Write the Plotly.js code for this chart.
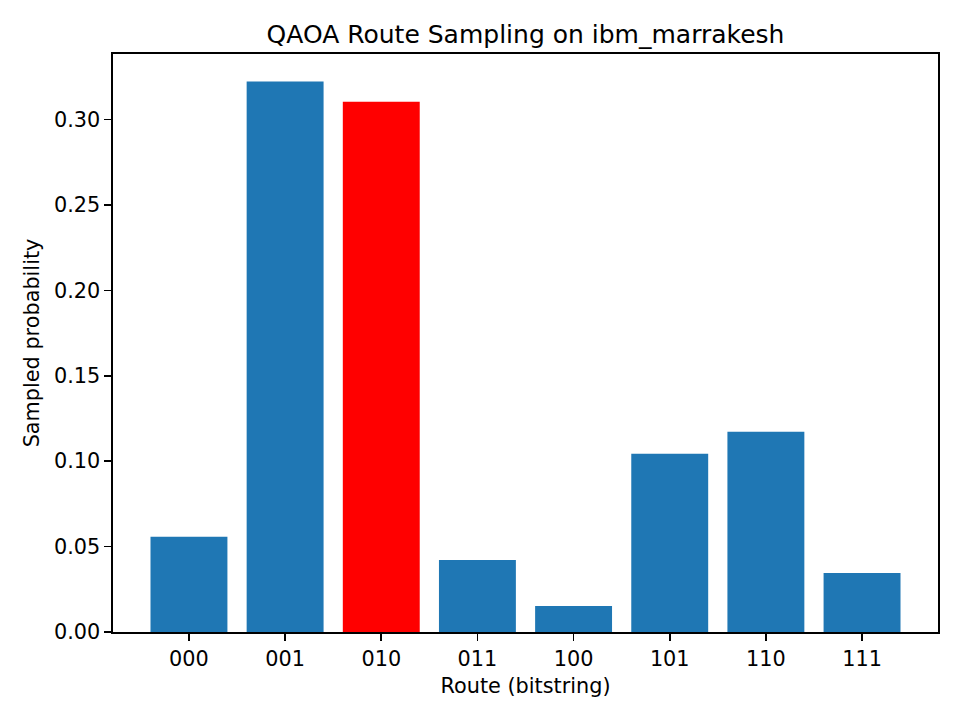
<!DOCTYPE html>
<html>
<head>
<meta charset="utf-8">
<script src="https://cdn.plot.ly/plotly-3.0.1.min.js"></script>
<style>html,body{margin:0;padding:0;background:#fff;}#chart{width:960px;height:720px;}</style>
</head>
<body>
<div id="chart"></div>
<script>
const routes = ["000", "001", "010", "011", "100", "101", "110", "111"];
const probabilities = [0.0557, 0.3223, 0.3105, 0.0422, 0.0152, 0.1043, 0.1172, 0.0346];
const highlightRoute = "010";
const yTickValues = [0, 0.05, 0.10, 0.15, 0.20, 0.25, 0.30];

const barColors = routes.map(r => r === highlightRoute ? "#ff0000" : "#1f77b4");
const font = "DejaVu Sans, sans-serif";

const trace = {
  type: "bar",
  x: routes,
  y: probabilities,
  width: 0.8,
  marker: {color: barColors, line: {width: 0}},
  hoverinfo: "x+y"
};

const axisCommon = {
  showline: true, linecolor: "#000", linewidth: 1.6, mirror: true,
  ticks: "outside", ticklen: 7, tickwidth: 1.6, tickcolor: "#000",
  showgrid: false, zeroline: false,
  tickfont: {family: font, size: 20.8, color: "#000"}
};

const layout = {
  width: 960, height: 720,
  margin: {l: 113, r: 22, t: 54, b: 88},
  paper_bgcolor: "#fff", plot_bgcolor: "#fff",
  showlegend: false,
  title: {text: "QAOA Route Sampling on ibm_marrakesh", font: {family: font, size: 25, color: "#000"},
          xref: "paper", x: 0.5, xanchor: "center", yref: "container", y: 1 - 34/720, yanchor: "middle"},
  xaxis: Object.assign({}, axisCommon, {
    type: "category", range: [-0.79, 7.79],
    title: {text: "Route (bitstring)", font: {family: font, size: 20.8, color: "#000"}, standoff: 9}
  }),
  yaxis: Object.assign({}, axisCommon, {
    range: [0, 0.3384],
    tickvals: yTickValues, tickformat: ".2f",
    title: {text: "Sampled probability", font: {family: font, size: 20.8, color: "#000"}, standoff: 8}
  })
};

Plotly.newPlot("chart", [trace], layout, {displayModeBar: false, staticPlot: true});
</script>
</body>
</html>
